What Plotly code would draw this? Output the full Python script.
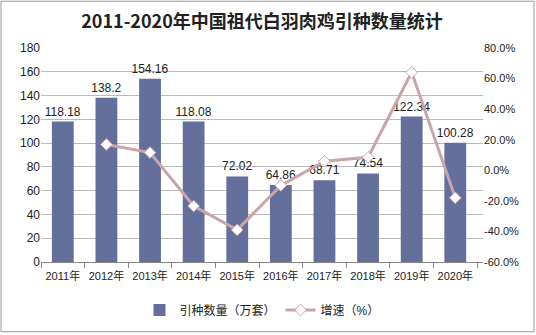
import plotly.graph_objects as go

years = ["2011年", "2012年", "2013年", "2014年", "2015年", "2016年", "2017年", "2018年", "2019年", "2020年"]
imports = [118.18, 138.2, 154.16, 118.08, 72.02, 64.86, 68.71, 74.54, 122.34, 100.28]
growth_years = years[1:]
growth = [16.9, 11.6, -23.4, -39.0, -9.9, 5.9, 8.5, 64.1, -18.0]
left_ticks = [0, 20, 40, 60, 80, 100, 120, 140, 160, 180]
right_ticks = [-60, -40, -20, 0, 20, 40, 60, 80]

W, H = 536, 335
L, R, T, B = 41, 53, 48, 72
pw, ph = W - L - R, H - T - B

font_main = "Liberation Sans, Arial, Noto Sans CJK SC, sans-serif"

fig = go.Figure()
fig.add_trace(go.Bar(
    x=years, y=imports, name="引种数量（万套）",
    marker=dict(color="#646F9C", line=dict(width=0)),
    text=[f"{v:g}" for v in imports], textposition="outside",
    textfont=dict(size=12, color="#222222", family=font_main),
    constraintext="none",
    cliponaxis=False, yaxis="y",
))
fig.add_trace(go.Scatter(
    x=growth_years, y=growth, name="增速（%）", mode="lines+markers",
    line=dict(color="#C9A5AA", width=3),
    marker=dict(symbol="diamond", size=9, color="white", line=dict(color="#C9A5AA", width=1)),
    yaxis="y2", cliponaxis=False,
))

def px_x(p):
    return (p - L) / pw

def px_y(p):
    return (H - B - p) / ph

fig.update_layout(
    width=W, height=H,
    margin=dict(l=L, r=R, t=T, b=B),
    paper_bgcolor="white", plot_bgcolor="white",
    bargap=0.5,
    uniformtext=dict(minsize=12, mode="show"),
    font=dict(family=font_main, size=11, color="#222222"),
    title=dict(text="<b>2011-2020年中国祖代白羽肉鸡引种数量统计</b>",
               x=0.5, xref="paper", y=1 - 22 / H, yanchor="middle",
               font=dict(size=18, family="Noto Sans CJK SC, serif", color="#222222")),
    xaxis=dict(type="category", showline=True, linecolor="#888888", linewidth=1,
               ticks="outside", tickson="boundaries", ticklen=5, tickcolor="#888888",
               tickangle=0, tickfont=dict(size=11), showgrid=False, ticklabelstandoff=4),
    yaxis=dict(range=[0, 180], tickvals=left_ticks, showgrid=True, gridcolor="#BBBBBB",
               gridwidth=1, zeroline=False, showline=False, ticks="", tickfont=dict(size=12)),
    yaxis2=dict(range=[-60, 80], tickvals=right_ticks,
                ticktext=[f"{v:.1f}%" for v in right_ticks],
                overlaying="y", side="right", showgrid=False, zeroline=False,
                showline=False, tickfont=dict(size=11)),
    legend=dict(orientation="h", x=0.5, xanchor="center", y=px_y(310), yanchor="middle",
                font=dict(size=12), bgcolor="rgba(0,0,0,0)"),
    showlegend=True,
)

fig.add_shape(type="rect", xref="paper", yref="paper",
              x0=px_x(1), x1=px_x(W - 2), y0=px_y(H - 2), y1=px_y(1),
              line=dict(color="#999999", width=1), fillcolor="rgba(0,0,0,0)", layer="below")

fig.write_html("out.html")
